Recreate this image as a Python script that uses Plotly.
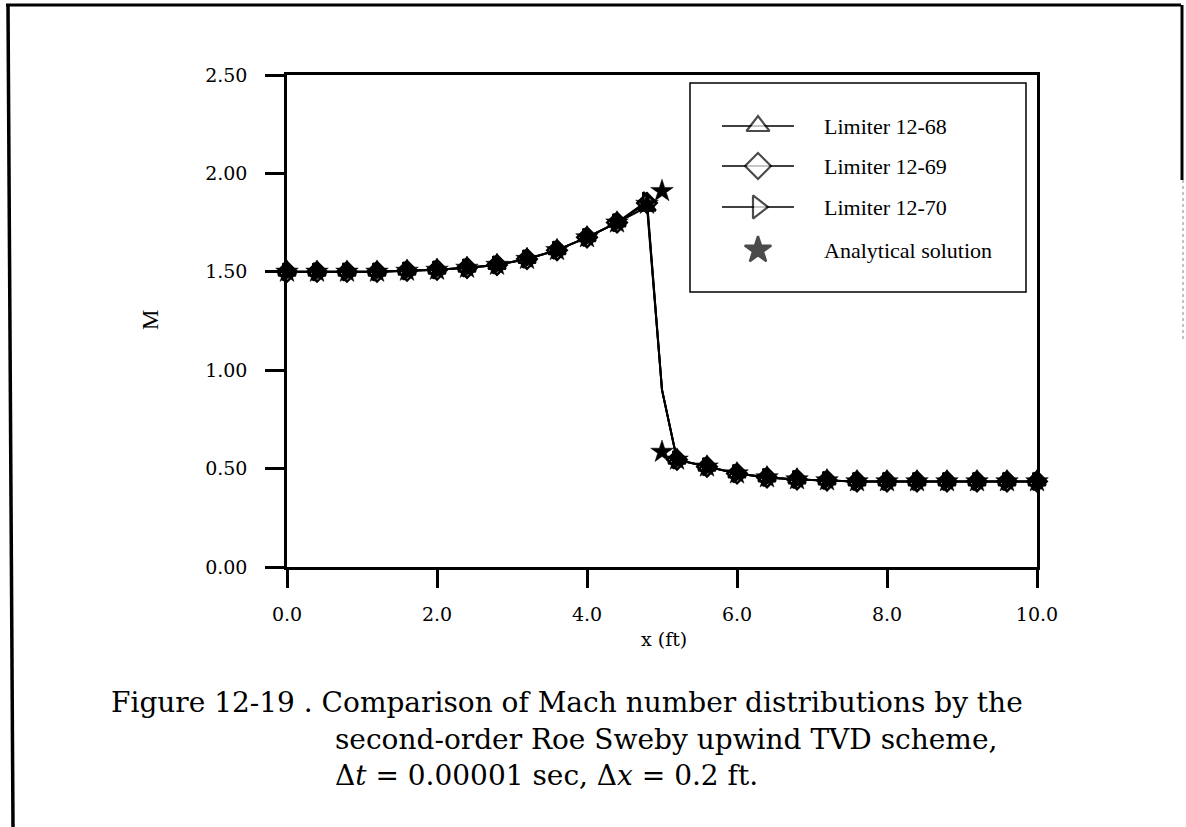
import plotly.graph_objects as go

# ---------------- data ----------------
x_num = [0.0, 0.4, 0.8, 1.2, 1.6, 2.0, 2.4, 2.8, 3.2, 3.6, 4.0, 4.4, 4.8, 5.0,
         5.2, 5.6, 6.0, 6.4, 6.8, 7.2, 7.6, 8.0, 8.4, 8.8, 9.2, 9.6, 10.0]
M_68 = [1.50, 1.50, 1.50, 1.50, 1.505, 1.51, 1.52, 1.535, 1.565, 1.61, 1.675, 1.75, 1.83, 0.90,
        0.545, 0.51, 0.475, 0.455, 0.445, 0.44, 0.435, 0.435, 0.435, 0.435, 0.435, 0.435, 0.435]
M_69 = [1.50, 1.50, 1.50, 1.50, 1.505, 1.51, 1.52, 1.535, 1.565, 1.61, 1.675, 1.75, 1.85, 0.90,
        0.545, 0.51, 0.475, 0.455, 0.445, 0.44, 0.435, 0.435, 0.435, 0.435, 0.435, 0.435, 0.435]
M_70 = [1.50, 1.50, 1.50, 1.50, 1.505, 1.51, 1.52, 1.535, 1.565, 1.61, 1.675, 1.75, 1.86, 0.90,
        0.545, 0.51, 0.475, 0.455, 0.445, 0.44, 0.435, 0.435, 0.435, 0.435, 0.435, 0.435, 0.435]
shock_node = 5.0   # interior shock node: on the line, no marker

x_an = [0.0, 0.4, 0.8, 1.2, 1.6, 2.0, 2.4, 2.8, 3.2, 3.6, 4.0, 4.4, 4.8, 5.0, 5.0,
        5.2, 5.6, 6.0, 6.4, 6.8, 7.2, 7.6, 8.0, 8.4, 8.8, 9.2, 9.6, 10.0]
M_an = [1.50, 1.50, 1.50, 1.50, 1.505, 1.51, 1.52, 1.535, 1.565, 1.61, 1.675, 1.75, 1.845, 1.91, 0.585,
        0.545, 0.51, 0.475, 0.455, 0.445, 0.44, 0.435, 0.435, 0.435, 0.435, 0.435, 0.435, 0.435]

x_ticks = [0, 2, 4, 6, 8, 10]
x_ticktext = ["0.0", "2.0", "4.0", "6.0", "8.0", "10.0"]
y_ticks = [0, 0.5, 1.0, 1.5, 2.0, 2.5]
y_ticktext = ["0.00", "0.50", "1.00", "1.50", "2.00", "2.50"]

series_names = ["Limiter 12-68", "Limiter 12-69", "Limiter 12-70"]
series_vals = [M_68, M_69, M_70]
series_symbols = ["triangle-up-open", "diamond-open", "triangle-right-open"]
legend_symbols = ["triangle-up", "diamond", "triangle-right", "star"]
an_name = "Analytical solution"

caption = [
    "Figure 12-19 . Comparison of Mach number distributions by the",
    "second-order Roe Sweby upwind TVD scheme,",
    "\u0394<i>t</i> = 0.00001 sec, \u0394<i>x</i> = 0.2 ft.",
]

# ---------------- layout geometry (pixels) ----------------
W, H = 1186, 827
L, R, T, B = 287, 1037, 75, 567


def fx(px):
    return (px - L) / (R - L)


def fy(py):
    return (B - py) / (B - T)


TICKFONT = dict(family="DejaVu Serif", size=19, color="black")

fig = go.Figure()

for name, vals in zip(series_names, series_vals):
    fig.add_trace(go.Scatter(x=x_num, y=vals, mode="lines",
                             line=dict(color="black", width=2), showlegend=False,
                             hoverinfo="skip"))
for name, vals, sym in zip(series_names, series_vals, series_symbols):
    xs = [x for x in x_num if x != shock_node]
    ys = [v for x, v in zip(x_num, vals) if x != shock_node]
    fig.add_trace(go.Scatter(x=xs, y=ys, mode="markers", name=name,
                             marker=dict(symbol=sym, size=15, color="black",
                                         line=dict(color="black", width=2.5)),
                             showlegend=False, cliponaxis=False))
fig.add_trace(go.Scatter(x=x_an, y=M_an, mode="markers", name=an_name,
                         marker=dict(symbol="star", size=17, color="black",
                                     line=dict(color="black", width=0.5)),
                         showlegend=False, cliponaxis=False))

# ---------------- manual legend ----------------
leg_left, leg_right, leg_top, leg_bottom = 690, 1026, 83, 292
leg_rows = [126, 166, 207, 250]
line_x0, line_x1, mark_x, text_x = 722, 794, 758, 822

fig.add_trace(go.Scatter(
    x=[mark_x] * 4, y=[H - r for r in leg_rows], mode="markers",
    xaxis="x2", yaxis="y2", showlegend=False, hoverinfo="skip", cliponaxis=False,
    marker=dict(symbol=legend_symbols, size=[20, 20, 20, 20],
                color=["white", "white", "white", "black"],
                line=dict(color="black", width=2.2))))

shapes = []
shapes.append(dict(type="rect", xref="paper", yref="paper",
                   x0=fx(leg_left), x1=fx(leg_right), y0=fy(leg_bottom), y1=fy(leg_top),
                   line=dict(color="black", width=1.5), fillcolor="white", layer="below"))
for r in leg_rows[:3]:
    shapes.append(dict(type="line", xref="paper", yref="paper", layer="below",
                       x0=fx(line_x0), x1=fx(line_x1), y0=fy(r), y1=fy(r),
                       line=dict(color="black", width=1.5)))

annotations = []
for r, name in zip(leg_rows, series_names + [an_name]):
    annotations.append(dict(xref="paper", yref="paper", x=fx(text_x), y=fy(r),
                            xanchor="left", yanchor="middle", showarrow=False,
                            text=name, font=dict(family="Liberation Serif", size=22, color="black")))

# page frame
shapes.append(dict(type="line", xref="paper", yref="paper", x0=fx(6), x1=fx(1181), y0=fy(5), y1=fy(5),
                   line=dict(color="black", width=3)))
shapes.append(dict(type="line", xref="paper", yref="paper", x0=fx(8), x1=fx(13), y0=fy(5), y1=fy(827),
                   line=dict(color="black", width=3.5)))
shapes.append(dict(type="line", xref="paper", yref="paper", x0=fx(1182), x1=fx(1182), y0=fy(5), y1=fy(180),
                   line=dict(color="black", width=3)))
shapes.append(dict(type="line", xref="paper", yref="paper", x0=fx(1183), x1=fx(1183), y0=fy(180), y1=fy(340),
                   line=dict(color="#888888", width=1, dash="dot")))

# axis titles
annotations.append(dict(xref="paper", yref="paper", x=fx(664), y=fy(639), xanchor="center", yanchor="middle",
                        showarrow=False, text="x (ft)",
                        font=dict(family="DejaVu Serif", size=19, color="black")))
annotations.append(dict(xref="paper", yref="paper", x=fx(150), y=fy(320), xanchor="center", yanchor="middle",
                        showarrow=False, text="M", textangle=-90,
                        font=dict(family="Liberation Serif", size=23, color="black")))

# caption
cap_pos = [(109, 702), (333, 739), (333, 775)]
for (cx, cy), line in zip(cap_pos, caption):
    annotations.append(dict(xref="paper", yref="paper", x=fx(cx), y=fy(cy), xanchor="left", yanchor="middle",
                            showarrow=False, text=line,
                            font=dict(family="DejaVu Serif", size=28, color="black")))

fig.update_layout(
    width=W, height=H, autosize=False,
    margin=dict(l=L, r=W - R, t=T, b=H - B, pad=0),
    paper_bgcolor="white", plot_bgcolor="white",
    showlegend=False,
    xaxis=dict(range=[0, 10], tickvals=x_ticks, ticktext=x_ticktext, ticks="outside",
               ticklen=18, tickwidth=2.5, tickcolor="black", showline=True, linewidth=2.5,
               linecolor="black", mirror=True, showgrid=False, zeroline=False,
               tickfont=TICKFONT, ticklabelstandoff=10),
    yaxis=dict(range=[0, 2.5], tickvals=y_ticks, ticktext=y_ticktext, ticks="outside",
               ticklen=19, tickwidth=2.5, tickcolor="black", showline=True, linewidth=2.5,
               linecolor="black", mirror=True, showgrid=False, zeroline=False,
               tickfont=TICKFONT, ticklabelstandoff=14),
    xaxis2=dict(range=[L, R], overlaying="x", visible=False),
    yaxis2=dict(range=[H - B, H - T], overlaying="y", visible=False),
    shapes=shapes, annotations=annotations,
)

fig.write_html("out.html")
